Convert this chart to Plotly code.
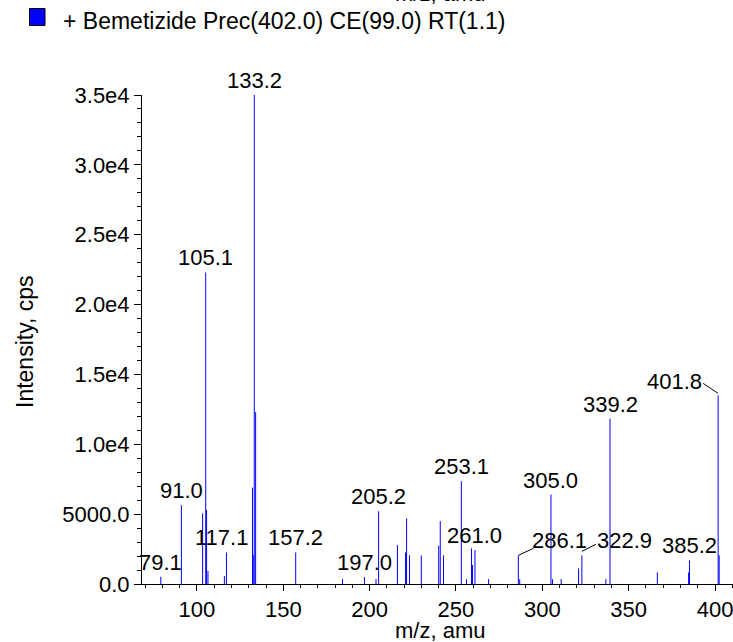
import plotly.graph_objects as go

# ---- data ----
mz = [79.1, 91.0, 103.3, 105.1, 105.6, 106.4, 115.9, 117.1, 132.2, 132.6, 133.2, 134.0,
      157.2, 184.3, 197.0, 203.7, 205.2, 216.1, 220.8, 221.4, 223.1, 229.9, 240.0, 240.9,
      242.8, 253.1, 256.1, 259.0, 259.6, 261.0, 268.9, 286.1, 286.9, 305.0, 305.9, 310.9,
      321.0, 322.9, 336.8, 339.2, 366.6, 384.7, 385.2, 401.8, 402.4]
intensity = [520, 5640, 5050, 22300, 5300, 930, 570, 2260, 6900, 2070, 35000, 12300,
             2260, 360, 500, 360, 5210, 2790, 2260, 4690, 2050, 2050, 2740, 4500,
             2050, 7360, 340, 2550, 1360, 2430, 360, 2050, 340, 6400, 340, 360,
             1120, 2050, 360, 11840, 830, 830, 1690, 13500, 2050]

# labelled peaks (plain labels centred above peak)
label_mz = [79.1, 91.0, 105.1, 117.1, 133.2, 157.2, 197.0, 205.2, 253.1, 261.0, 305.0, 339.2, 385.2]
# labelled peaks with leader lines
leader_mz = [286.1, 322.9, 401.8]

x_ticks = [100, 150, 200, 250, 300, 350, 400]
y_ticks = [0, 5000, 10000, 15000, 20000, 25000, 30000, 35000]
y_ticktext = ["0.0", "5000.0", "1.0e4", "1.5e4", "2.0e4", "2.5e4", "3.0e4", "3.5e4"]

legend_text = "+ Bemetizide Prec(402.0) CE(99.0) RT(1.1)"
x_title = "m/z, amu"
y_title = "Intensity, cps"

FONT = "Liberation Sans, Arial, Helvetica, sans-serif"
FS = 22
BLUE = "#0000ff"

W, H = 733, 642
ML, MR, MT, MB = 142, 0, 95, 58
PW = W - ML - MR
PH = H - MT - MB

# label placement for leader-line labels: (text xshift, text yshift, leader x0, y0, x1, y1) in px
leader_geom = [(41, 0, 0, 0, 15, 7),
               (43, 0, 0, 4, 14, 11),
               (-44, -1, 0, 2, -15, 12)]


def px_to_paper_x(px):
    return (px - ML) / PW


def px_to_paper_y(py):
    return (H - MB - py) / PH


# stick spectrum built from the arrays
sx, sy = [], []
for m, v in zip(mz, intensity):
    sx += [m, m, None]
    sy += [0, v, None]

fig = go.Figure()
fig.add_trace(go.Scatter(x=sx, y=sy, mode="lines",
                         line=dict(color=BLUE, width=1), hoverinfo="skip",
                         showlegend=False, cliponaxis=False))

# precursor marker (blue triangle at origin)
fig.add_trace(go.Scatter(x=[65.9], y=[360], mode="markers",
                         marker=dict(symbol="triangle-right", size=14, color=BLUE),
                         showlegend=False, cliponaxis=False, hoverinfo="skip"))

annotations = []
shapes = []
lookup = dict(zip(mz, intensity))
for m in label_mz:
    xs = -5 if m == 117.1 else 0
    annotations.append(dict(x=m, y=lookup[m], xref="x", yref="y", text=f"{m:.1f}",
                            showarrow=False, yanchor="bottom", xanchor="center",
                            xshift=xs,
                            font=dict(family=FONT, size=FS, color="black")))
for m, (tx, ty, lx0, ly0, lx1, ly1) in zip(leader_mz, leader_geom):
    annotations.append(dict(x=m, y=lookup[m], xref="x", yref="y", text=f"{m:.1f}",
                            showarrow=False, yanchor="bottom", xanchor="center",
                            xshift=tx, yshift=ty,
                            font=dict(family=FONT, size=FS, color="black")))
    shapes.append(dict(type="line", xref="x", yref="y",
                       xsizemode="pixel", ysizemode="pixel",
                       xanchor=m, yanchor=lookup[m],
                       x0=lx0, y0=ly0, x1=lx1, y1=ly1,
                       line=dict(color="black", width=1)))

# axis titles
annotations.append(dict(x=px_to_paper_x(440), y=px_to_paper_y(630), xref="paper", yref="paper",
                        text=x_title, showarrow=False, xanchor="center", yanchor="middle",
                        font=dict(family=FONT, size=FS, color="black")))
# cut-off title of the chart above (only its lower edge shows)
annotations.append(dict(x=px_to_paper_x(440), y=px_to_paper_y(-7), xref="paper", yref="paper",
                        text=x_title, showarrow=False, xanchor="center", yanchor="middle",
                        font=dict(family=FONT, size=FS, color="black")))
annotations.append(dict(x=px_to_paper_x(25), y=px_to_paper_y(342), xref="paper", yref="paper",
                        text=y_title, textangle=-90, showarrow=False,
                        xanchor="center", yanchor="middle",
                        font=dict(family=FONT, size=23, color="black")))
# legend text
annotations.append(dict(x=px_to_paper_x(60.5), y=px_to_paper_y(20.6), xref="paper", yref="paper",
                        text=legend_text, showarrow=False, xanchor="left", yanchor="middle",
                        font=dict(family=FONT, size=23, color="black")))

shapes.append(dict(type="rect", xref="paper", yref="paper",
                   x0=px_to_paper_x(29.5), x1=px_to_paper_x(45), y0=px_to_paper_y(25.5), y1=px_to_paper_y(8.5),
                   fillcolor=BLUE, line=dict(color="black", width=1)))

fig.update_layout(
    width=W, height=H,
    margin=dict(l=ML, r=MR, t=MT, b=MB, pad=0),
    paper_bgcolor="white", plot_bgcolor="white",
    showlegend=False,
    annotations=annotations,
    shapes=shapes,
    font=dict(family=FONT, size=FS, color="black"),
    xaxis=dict(range=[68.2, 410.4], showline=True, linecolor="black", linewidth=1,
               showgrid=False, zeroline=False, ticks="outside", ticklen=6, tickcolor="black",
               tickvals=x_ticks, ticktext=[str(t) for t in x_ticks],
               ticklabeloverflow="allow",
               tickfont=dict(family=FONT, size=FS, color="black"),
               minor=dict(dtick=10, tick0=0, ticklen=3, ticks="outside", tickcolor="black", showgrid=False)),
    yaxis=dict(range=[0, 35000], showline=True, linecolor="black", linewidth=1,
               showgrid=False, zeroline=False, ticks="outside", ticklen=7, tickcolor="black",
               tickvals=y_ticks, ticktext=y_ticktext,
               ticklabeloverflow="allow",
               tickfont=dict(family=FONT, size=FS, color="black"),
               minor=dict(dtick=1000, tick0=0, ticklen=4, ticks="outside", tickcolor="black", showgrid=False)),
)

fig.write_html("out.html", config={"displayModeBar": False},
               post_script="document.body.style.margin='0';document.body.style.overflow='hidden';")
